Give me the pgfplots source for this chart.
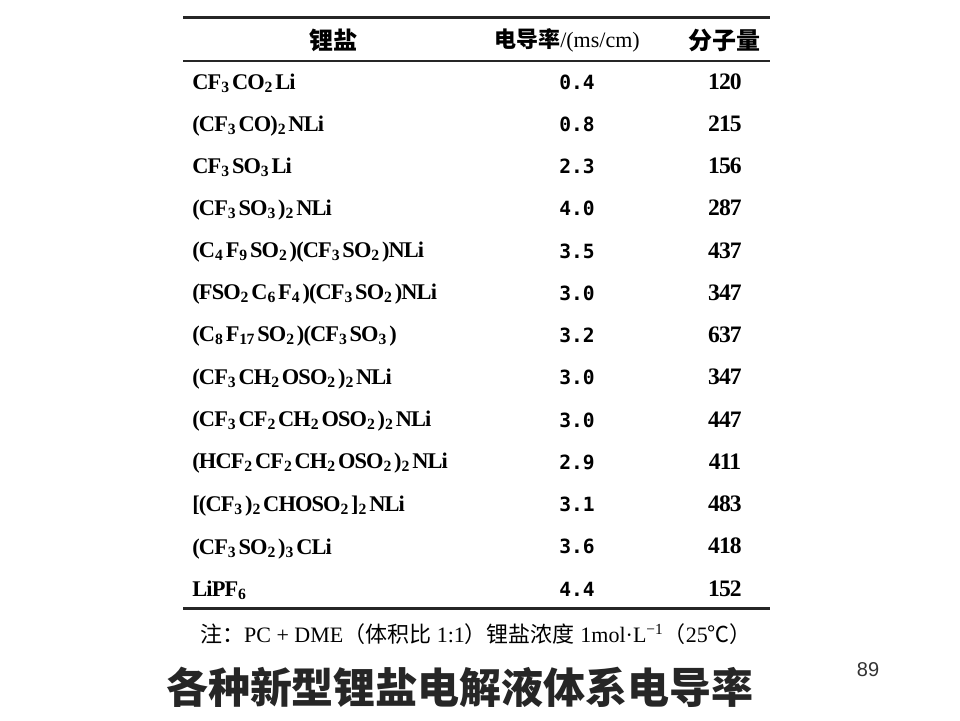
\documentclass[border=0pt]{standalone}
\usepackage{fontspec}
\setmainfont{Liberation Serif}
\newfontfamily\cjk{Noto Sans CJK SC}
\newfontfamily\monof{DejaVu Sans Mono}
\newfontfamily\sansf{Liberation Sans}
\newfontfamily\formf[LetterSpace=-4]{Liberation Serif}
\usepackage{pgfplots}
\usepackage{pgfplotstable}
\pgfplotsset{compat=1.18}
\newcommand\sub[1]{\textsubscript{#1}}
\newcommand\gp{\kern0.9pt}
\pgfplotstableread{
row cond mw
1 0.4 120
2 0.8 215
3 2.3 156
4 4.0 287
5 3.5 437
6 3.0 347
7 3.2 637
8 3.0 347
9 3.0 447
10 2.9 411
11 3.1 483
12 3.6 418
13 4.4 152
}\saltdata
\begin{document}
\begin{tikzpicture}
\begin{axis}[
  scale only axis, width=480pt, height=360pt,
  xmin=0, xmax=960, ymin=0, ymax=720, y dir=reverse,
  hide axis, clip=false,
]
\fill[white] (rel axis cs:0,0) rectangle (rel axis cs:1,1);
% rules
\draw[line width=1.5pt, black!85] (axis cs:183,17) -- (axis cs:770,17);
\draw[line width=0.9pt, black!85] (axis cs:183,61) -- (axis cs:770,61);
\draw[line width=1.5pt, black!85] (axis cs:183,608) -- (axis cs:770,608);
% header
\node[font=\fontsize{12}{14}\selectfont\cjk\bfseries] at (axis cs:333,40) {锂盐};
\node[font=\fontsize{11}{13}\selectfont] at (axis cs:567,40) {{\cjk\bfseries 电导率}/(ms/cm)};
\node[font=\fontsize{12}{14}\selectfont\cjk\bfseries] at (axis cs:724,40) {分子量};
% salt names
\addplot[draw=none, mark=none, point meta=explicit symbolic,
  nodes near coords, nodes near coords align=center,
  every node near coord/.append style={anchor=base west, inner sep=0pt, font=\fontsize{11.2}{13}\selectfont\formf\bfseries, text=black}]
  coordinates {
  (192,89) [{CF\sub3\gp CO\sub2\gp Li}]
  (192,131) [{(CF\sub3\gp CO)\sub2\gp NLi}]
  (192,173) [{CF\sub3\gp SO\sub3\gp Li}]
  (192,215) [{(CF\sub3\gp SO\sub3\gp)\sub2\gp NLi}]
  (192,257) [{(C\sub4\gp F\sub9\gp SO\sub2\gp)(CF\sub3\gp SO\sub2\gp)NLi}]
  (192,299) [{(FSO\sub2\gp C\sub6\gp F\sub4\gp)(CF\sub3\gp SO\sub2\gp)NLi}]
  (192,341) [{(C\sub8\gp F\sub{17}\gp SO\sub2\gp)(CF\sub3\gp SO\sub3\gp)}]
  (192,384) [{(CF\sub3\gp CH\sub2\gp OSO\sub2\gp)\sub2\gp NLi}]
  (192,426) [{(CF\sub3\gp CF\sub2\gp CH\sub2\gp OSO\sub2\gp)\sub2\gp NLi}]
  (192,468) [{(HCF\sub2\gp CF\sub2\gp CH\sub2\gp OSO\sub2\gp)\sub2\gp NLi}]
  (192,511) [{[(CF\sub3\gp)\sub2\gp CHOSO\sub2\gp]\sub2\gp NLi}]
  (192,554) [{(CF\sub3\gp SO\sub2\gp)\sub3\gp CLi}]
  (192,596) [{LiPF\sub6}]
  };
% conductivity
\addplot[draw=none, mark=none, point meta=\thisrow{cond},
  nodes near coords={\pgfmathprintnumber[fixed,fixed zerofill,precision=1,assume math mode=true]{\pgfplotspointmeta}},
  nodes near coords align=center,
  every node near coord/.append style={anchor=base, inner sep=0pt, font=\fontsize{9.8}{12}\selectfont\monof\bfseries, text=black}]
  table[x expr=577, y expr={82+42.25*(\thisrow{row}-1)+7}] {\saltdata};
% molecular weight
\addplot[draw=none, mark=none, point meta=\thisrow{mw},
  nodes near coords={\pgfmathprintnumber[fixed,precision=0,assume math mode=true]{\pgfplotspointmeta}},
  nodes near coords align=center,
  every node near coord/.append style={anchor=base, inner sep=0pt, font=\fontsize{11.8}{13}\selectfont\formf\bfseries, text=black}]
  table[x expr=725, y expr={82+42.25*(\thisrow{row}-1)+7}] {\saltdata};
% note, title, page number
\node[font=\fontsize{11}{13}\selectfont, text=black] at (axis cs:476,634)
  {{\cjk 注：}PC + DME{\cjk （体积比} 1:1{\cjk ）锂盐浓度} 1mol·L\textsuperscript{−1}{\cjk （}25{\cjk ℃）}};
\node[font=\fontsize{21}{24}\selectfont\cjk\bfseries, text=black!85] at (axis cs:460,687) {各种新型锂盐电解液体系电导率};
\node[font=\fontsize{10}{12}\selectfont\sansf, text=black!80] at (axis cs:868,670) {89};
\end{axis}
\end{tikzpicture}
\end{document}
